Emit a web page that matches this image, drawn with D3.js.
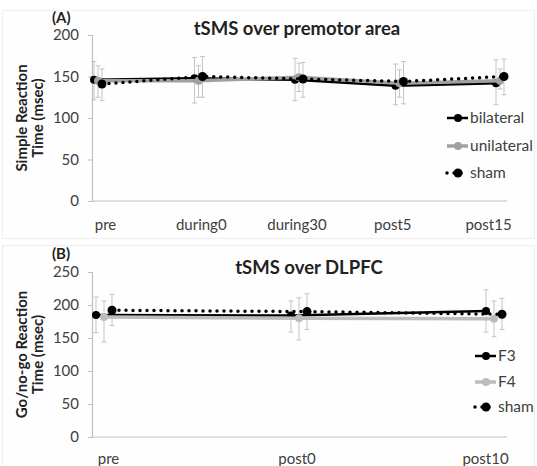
<!DOCTYPE html>
<html>
<head>
<meta charset="utf-8">
<script src="https://cdn.jsdelivr.net/npm/d3@7"></script>
<style>
  body { margin: 0; background: #fff; }
  text { font-family: Lato, "Open Sans", sans-serif; }
</style>
</head>
<body>
<div id="chart"></div>
<script>
// Panel A data: tSMS over premotor area
const catsA = ["pre", "during0", "during30", "post5", "post15"]
const seriesA = ["bilateral", "unilateral", "sham"]
const bilateralA = [146, 148, 146, 139, 142]
const unilateralA = [145, 145, 149, 142, 145]
const shamA = [141, 150, 147, 144, 150]
const bilateralErrA = [[122, 168], [118, 173], [121, 172], [116, 165], [116, 170]]
const unilateralErrA = [[125, 163], [125, 163], [132, 166], [125, 158], [135, 159]]
const shamErrA = [[121, 159], [125, 174], [125, 167], [117, 168], [128, 171]]
const ticksA = [0, 50, 100, 150, 200]

// Panel B data: tSMS over DLPFC
const catsB = ["pre", "post0", "post10"]
const seriesB = ["F3", "F4", "sham"]
const f3B = [185, 184, 191]
const f4B = [182, 180, 179]
const shamB = [192, 190, 186]
const f3ErrB = [[158, 212], [159, 206], [159, 223]]
const f4ErrB = [[144, 206], [147, 211], [152, 206]]
const shamErrB = [[169, 216], [163, 217], [163, 210]]
const ticksB = [0, 50, 100, 150, 200, 250]

const W = 537, H = 466

const svg = d3.select("#chart").append("svg")
    .attr("width", W)
    .attr("height", H)

// line styles per series slot (solid black, solid gray, dotted black)
const styles = [
    { stroke: "#000", width: 2.5, dash: null, r: 4 },
    { stroke: "#a6a6a6", width: 3.5, dash: null, r: 4 },
    { stroke: "#000", width: 3.5, dash: "0,7", r: 4.5 }
]

function panel(cfg) {
    const g = svg.append("g")

    // faint panel frame
    g.append("rect")
        .attr("x", 2.5).attr("y", cfg.top + 0.5)
        .attr("width", W - 5).attr("height", cfg.h)
        .attr("fill", "#fefefe")
        .attr("stroke", "#eeeeee")

    const y = d3.scaleLinear().domain(cfg.yDomain).range(cfg.yRange)
    const x = d3.scalePoint().domain(cfg.cats).range(cfg.xRange)
    const xLab = d3.scalePoint().domain(cfg.cats).range(cfg.labRange)

    // y axis
    const yAx = g.append("g")
        .attr("transform", `translate(${cfg.axisX}, 0)`)
        .call(d3.axisLeft(y).tickValues(cfg.ticks).tickSize(4).tickPadding(9))
    yAx.select(".domain").attr("stroke", "#bfbfbf").attr("stroke-width", 1.2)
    yAx.selectAll(".tick line").attr("stroke", "#bfbfbf")
    yAx.selectAll(".tick text")
        .attr("fill", "#404040")
        .style("font-size", "15px")
        .style("font-family", "Lato, sans-serif")

    // x axis line
    g.append("line")
        .attr("x1", cfg.axisX).attr("x2", cfg.axisEnd)
        .attr("y1", y(0)).attr("y2", y(0))
        .attr("stroke", "#bfbfbf").attr("stroke-width", 1.2)

    const xAx = g.append("g")
        .attr("transform", `translate(0, ${y(0)})`)
        .call(d3.axisBottom(xLab).tickSize(0).tickPadding(cfg.labPad))
    xAx.select(".domain").remove()
    xAx.selectAll(".tick text")
        .attr("fill", "#404040")
        .style("font-size", "15px")
        .style("font-family", "Lato, sans-serif")

    // panel letter and title
    g.append("text")
        .attr("x", 52).attr("y", cfg.top + cfg.letterDy)
        .attr("font-weight", "bold").attr("font-size", 15)
        .attr("fill", "#222")
        .text(cfg.letter)
    g.append("text")
        .attr("x", cfg.titleX).attr("y", cfg.top + cfg.titleDy)
        .attr("text-anchor", "middle")
        .attr("font-weight", "bold").attr("font-size", 18.5)
        .attr("fill", "#222")
        .text(cfg.title)

    // y label, two lines
    const midY = (y(cfg.yDomain[0]) + y(cfg.yDomain[1])) / 2
    const yl = g.append("text")
        .attr("transform", `translate(27, ${midY}) rotate(-90)`)
        .attr("text-anchor", "middle")
        .attr("font-weight", "bold").attr("font-size", 15)
        .attr("fill", "#222")
    yl.append("tspan").attr("x", 0).attr("dy", 0).text(cfg.yLabel[0])
    yl.append("tspan").attr("x", 0).attr("dy", 16).text(cfg.yLabel[1])

    // error bars first, under the lines
    cfg.values.forEach((vals, si) => {
        const px = (c) => x(c) + cfg.offsets[si]
        const eb = g.append("g")
        cfg.errs[si].forEach((e, i) => {
            const cx = px(cfg.cats[i])
            eb.append("line")
                .attr("x1", cx).attr("x2", cx)
                .attr("y1", y(e[0])).attr("y2", y(e[1]))
                .attr("stroke", "#c4c4c4").attr("stroke-width", 1)
            e.forEach(v => {
                eb.append("line")
                    .attr("x1", cx - 2.5).attr("x2", cx + 2.5)
                    .attr("y1", y(v)).attr("y2", y(v))
                    .attr("stroke", "#c4c4c4").attr("stroke-width", 1)
            })
        })
    })

    cfg.values.forEach((vals, si) => {
        const st = styles[si]
        const color = si === 1 ? cfg.grayColor : st.stroke
        const px = (c) => x(c) + cfg.offsets[si]
        const line = d3.line().x((d, i) => px(cfg.cats[i])).y(d => y(d))

        g.append("path")
            .datum(vals)
            .attr("d", line)
            .attr("fill", "none")
            .attr("stroke", color)
            .attr("stroke-width", st.width)
            .attr("stroke-linecap", st.dash ? "round" : "butt")
            .attr("stroke-dasharray", st.dash)

        g.selectAll(null)
            .data(vals)
            .join("circle")
            .attr("cx", (d, i) => px(cfg.cats[i]))
            .attr("cy", d => y(d))
            .attr("r", st.r)
            .attr("fill", color)

        // legend
        const ly = cfg.legendY[si]
        const lx = cfg.legendX
        g.append("line")
            .attr("x1", lx).attr("x2", lx + 21)
            .attr("y1", ly).attr("y2", ly)
            .attr("stroke", color)
            .attr("stroke-width", st.width)
            .attr("stroke-linecap", st.dash ? "round" : "butt")
            .attr("stroke-dasharray", st.dash)
        g.append("circle")
            .attr("cx", lx + 11).attr("cy", ly).attr("r", st.r)
            .attr("fill", color)
        g.append("text")
            .attr("x", lx + 23).attr("y", ly + 5)
            .attr("font-size", 15.5)
            .attr("fill", "#404040")
            .text(cfg.series[si])
    })
}

panel({
    top: 10, h: 228,
    letter: "(A)", letterDy: 13, title: "tSMS over premotor area", titleX: 297, titleDy: 25,
    yLabel: ["Simple Reaction", "Time (msec)"],
    cats: catsA, series: seriesA,
    values: [bilateralA, unilateralA, shamA],
    errs: [bilateralErrA, unilateralErrA, shamErrA],
    ticks: ticksA,
    yDomain: [0, 200], yRange: [201, 35],
    xRange: [98, 500], labRange: [105, 488], labPad: 18,
    offsets: [-4, 0, 4],
    axisX: 92, axisEnd: 507,
    grayColor: "#a0a0a0",
    legendX: 447, legendY: [118, 146, 173]
})

panel({
    top: 245, h: 225,
    letter: "(B)", letterDy: 14, title: "tSMS over DLPFC", titleX: 309, titleDy: 29,
    yLabel: ["Go/no-go Reaction", "Time (msec)"],
    cats: catsB, series: seriesB,
    values: [f3B, f4B, shamB],
    errs: [f3ErrB, f4ErrB, shamErrB],
    ticks: ticksB,
    yDomain: [0, 250], yRange: [437, 272],
    xRange: [104, 494], labRange: [108, 485], labPad: 16,
    offsets: [-8, 0, 8],
    axisX: 92, axisEnd: 507,
    grayColor: "#bdbdbd",
    legendX: 475, legendY: [356, 382, 407]
})
</script>
</body>
</html>
